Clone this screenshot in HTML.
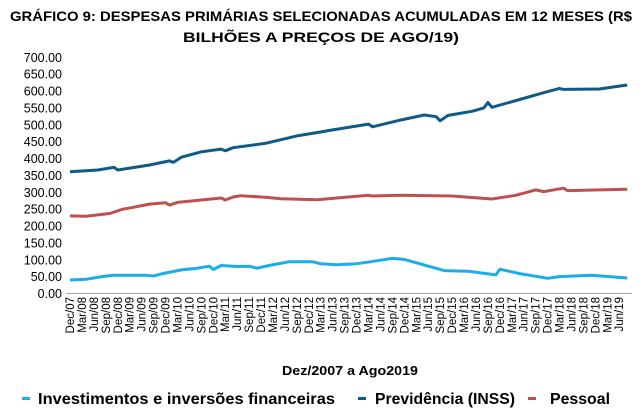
<!DOCTYPE html>
<html><head><meta charset="utf-8"><style>
html,body{margin:0;padding:0;background:#fff;}
svg{display:block;font-family:"Liberation Sans",sans-serif;}
</style></head><body>
<svg id="chart" width="643" height="414" viewBox="0 0 643 414" xmlns="http://www.w3.org/2000/svg">
<text x="321" y="21" text-anchor="middle" font-size="14" font-weight="bold" textLength="622" lengthAdjust="spacingAndGlyphs">GRÁFICO 9: DESPESAS PRIMÁRIAS SELECIONADAS ACUMULADAS EM 12 MESES (R$</text>
<text x="321" y="42" text-anchor="middle" font-size="14" font-weight="bold" textLength="276" lengthAdjust="spacingAndGlyphs">BILHÕES A PREÇOS DE AGO/19)</text>
<g id="yaxis"></g>
<g id="xaxis"></g>
<g id="series"></g>
<text x="350" y="375" text-anchor="middle" font-size="13" font-weight="bold" textLength="136" lengthAdjust="spacingAndGlyphs">Dez/2007 a Ago2019</text>
<g>
 <g>
  <rect x="22" y="397" width="8" height="3" fill="#1aaee8"/>
  <text x="38" y="404" font-size="15.5" font-weight="bold" textLength="297" lengthAdjust="spacingAndGlyphs">Investimentos e inversões financeiras</text>
 </g>
 <g>
  <rect x="358" y="397" width="8" height="3" fill="#0d5b86"/>
  <text x="375" y="404" font-size="15.5" font-weight="bold" textLength="140" lengthAdjust="spacingAndGlyphs">Previdência (INSS)</text>
 </g>
 <g>
  <rect x="528" y="397" width="8" height="3" fill="#c0504d"/>
  <text x="550" y="404" font-size="15.5" font-weight="bold" textLength="60" lengthAdjust="spacingAndGlyphs">Pessoal</text>
 </g>
</g>
</svg>
<script>
// months since Dec/2007
const prevMonths = [0,7,11,12,20,25,26,28,33,38,39,41,49,57,62,66,75,76,83,89,92,93,95,101,104,105,106,113,119,123,124,133,140];
const prevValues = [361,366,374,366,381,393,389,404,420,428,423,432,445,467,477,485,502,494,514,529,524,512,528,540,550,566,552,575,595,608,605,606,618];
const pessMonths = [0,4,10,13,20,24,25,27,38,39,41,43,49,53,62,75,76,83,96,106,112,117,119,124,125,140];
const pessValues = [230,229,237,249,265,269,262,270,283,277,286,290,285,281,278,291,289,291,289,280,291,307,302,312,305,309];
const invMonths = [0,4,8,11,19,21,23,28,32,35,36,38,42,45,47,50,55,61,63,67,72,77,81,84,94,100,107,108,113,120,123,131,140];
const invValues = [40,42,50,54,54,52,58,70,75,81,71,83,80,81,75,83,94,94,88,85,88,97,104,101,68,66,55,72,59,45,50,54,46];
const yTicks = [0,50,100,150,200,250,300,350,400,450,500,550,600,650,700];
const monthNames = ["Dec","Mar","Jun","Sep"];

const NS="http://www.w3.org/2000/svg";
const X0=70, PXM=3.98, Y0=293.5, PXU=0.3374;
function xs(m){return X0+m*PXM;}
function ys(v){return Y0-v*PXU;}
function mk(tag,attrs,parent){const e=document.createElementNS(NS,tag);for(const k in attrs)e.setAttribute(k,attrs[k]);parent.appendChild(e);return e;}

const ya=document.getElementById('yaxis');
yTicks.forEach(t=>{
  const tx=mk('text',{x:62,y:ys(t)+4.5,'text-anchor':'end','font-size':12.5},ya);
  tx.textContent=t.toFixed(2);
  
  
});
const xa=document.getElementById('xaxis');
const axl=mk('line',{x1:66,x2:632,y1:Y0,y2:Y0,stroke:'#a6a6a6','stroke-width':1},xa);


for(let m=0;m<=138;m+=3){
  const q=(m/3)%4;
  const realYear = q===0 ? 7+m/12 : 8+Math.floor(m/12);
  const lab=monthNames[q]+"/"+String(realYear).padStart(2,'0');
  const x=xs(m)+4;
  const tx=mk('text',{x:x,y:297,'text-anchor':'end','font-size':11.5,transform:`rotate(-90 ${x} 297)`},xa);
  tx.textContent=lab;
  
  
}
const sg=document.getElementById('series');
function line(months,vals,color,name){
  const d=months.map((m,i)=>(i?'L':'M')+xs(m).toFixed(1)+' '+ys(vals[i]).toFixed(1)).join(' ');
  const p=mk('path',{d:d,fill:'none',stroke:color,'stroke-width':3,'stroke-linejoin':'round'},sg);
  
  
}
line(prevMonths,prevValues,'#0d5b86','line-previdencia');
line(pessMonths,pessValues,'#c0504d','line-pessoal');
line(invMonths,invValues,'#1aaee8','line-investimentos');
</script>
</body></html>
